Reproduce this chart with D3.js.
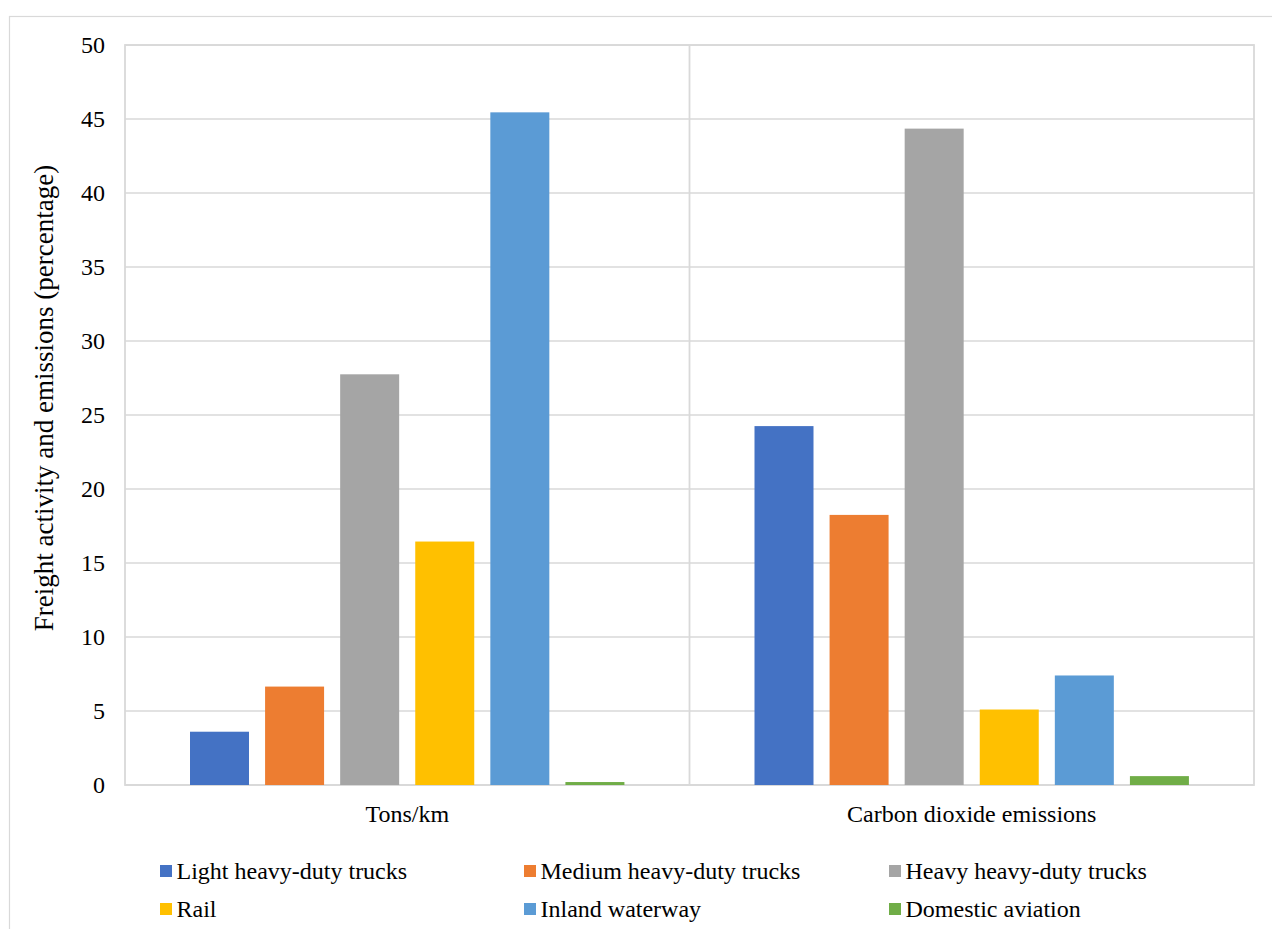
<!DOCTYPE html>
<html>
<head>
<meta charset="utf-8">
<script src="https://cdn.jsdelivr.net/npm/d3@7"></script>
<style>
  html, body { margin: 0; padding: 0; background: #fff; }
  svg { display: block; }
  text { font-family: "Liberation Serif", "Times New Roman", serif; fill: #000; }
</style>
</head>
<body>
<svg id="chart" width="1272" height="929"></svg>
<script>
// Freight activity vs. CO2 emissions share by mode
const categories = ["Tons/km", "Carbon dioxide emissions"];
const seriesNames = [
  "Light heavy-duty trucks",
  "Medium heavy-duty trucks",
  "Heavy heavy-duty trucks",
  "Rail",
  "Inland waterway",
  "Domestic aviation"
];
const tonsKm = [3.6, 6.65, 27.75, 16.45, 45.45, 0.2];
const co2 = [24.25, 18.25, 44.35, 5.1, 7.4, 0.6];
const seriesColors = ["#4472C4", "#ED7D31", "#A5A5A5", "#FFC000", "#5B9BD5", "#70AD47"];
const yTicks = [0, 5, 10, 15, 20, 25, 30, 35, 40, 45, 50];
const yLabel = "Freight activity and emissions (percentage)";

const valuesByCategory = [tonsKm, co2];
const rows = categories.map((c, i) => ({
  category: c,
  values: seriesNames.map((s, j) => ({ series: s, value: valuesByCategory[i][j], color: seriesColors[j] }))
}));

const FONT = '"Liberation Serif", "Times New Roman", serif';
const svg = d3.select("#chart");
const W = 1272, H = 929;
const plot = { left: 125, right: 1254, top: 45, bottom: 785 };

// outer chart frame
svg.append("rect")
  .attr("x", 9.5).attr("y", 16.5)
  .attr("width", W + 10).attr("height", H + 10)
  .attr("fill", "none").attr("stroke", "#d9d9d9").attr("stroke-width", 1.2);

const x0 = d3.scaleBand().domain(categories).range([plot.left, plot.right]).padding(0);
const groupPad = 65;
const x1 = d3.scaleBand().domain(seriesNames)
  .range([groupPad, x0.bandwidth() - groupPad + 16])
  .paddingInner(0).paddingOuter(0);
const barW = 59;
const y = d3.scaleLinear().domain([0, 50]).range([plot.bottom, plot.top]);

// horizontal gridlines
svg.append("g")
  .selectAll("line")
  .data(yTicks)
  .join("line")
  .attr("x1", plot.left).attr("x2", plot.right)
  .attr("y1", d => y(d)).attr("y2", d => y(d))
  .attr("stroke", "#d9d9d9").attr("stroke-width", 1.5);

// plot frame and category divider
svg.append("rect")
  .attr("x", plot.left).attr("y", plot.top)
  .attr("width", plot.right - plot.left).attr("height", plot.bottom - plot.top)
  .attr("fill", "none").attr("stroke", "#d9d9d9").attr("stroke-width", 1.8);
svg.append("line")
  .attr("x1", x0(categories[1])).attr("x2", x0(categories[1]))
  .attr("y1", plot.top).attr("y2", plot.bottom)
  .attr("stroke", "#d9d9d9").attr("stroke-width", 1.8);

// bars
const groups = svg.append("g").selectAll("g")
  .data(rows)
  .join("g")
  .attr("transform", d => `translate(${x0(d.category)},0)`);
groups.selectAll("rect")
  .data(d => d.values)
  .join("rect")
  .attr("x", d => x1(d.series))
  .attr("width", barW)
  .attr("y", d => y(d.value))
  .attr("height", d => y(0) - y(d.value))
  .attr("fill", d => d.color);

// y axis tick labels
const yAxis = d3.axisLeft(y).tickValues(yTicks).tickSize(0).tickPadding(0);
const yg = svg.append("g").attr("transform", `translate(105,0)`).call(yAxis);
yg.select(".domain").remove();
yg.selectAll("text")
  .attr("font-family", FONT)
  .attr("font-size", 24).attr("fill", "#000").attr("dy", "0.33em");

// x axis category labels
const xAxis = d3.axisBottom(x0).tickSize(0).tickPadding(0);
const xg = svg.append("g").attr("transform", `translate(0,${plot.bottom + 29})`).call(xAxis);
xg.select(".domain").remove();
xg.selectAll("text")
  .attr("font-family", FONT)
  .attr("font-size", 24).attr("fill", "#000").attr("dy", "0.33em");

// y axis title
svg.append("text")
  .attr("transform", `translate(53,398) rotate(-90)`)
  .attr("text-anchor", "middle")
  .attr("font-family", FONT)
  .attr("font-size", 27)
  .text(yLabel);

// legend: three columns, two rows
const legCols = [160, 524, 889];
const legRows = [871, 909];
const legend = svg.append("g").selectAll("g")
  .data(seriesNames)
  .join("g")
  .attr("transform", (d, i) => `translate(${legCols[i % 3]},${legRows[Math.floor(i / 3)]})`);
legend.append("rect")
  .attr("x", 0).attr("y", -6).attr("width", 12).attr("height", 12)
  .attr("fill", (d, i) => seriesColors[i]);
legend.append("text")
  .attr("x", 16.5).attr("y", 0).attr("dy", "0.33em")
  .attr("font-family", FONT)
  .attr("font-size", 24)
  .text(d => d);
</script>
</body>
</html>
